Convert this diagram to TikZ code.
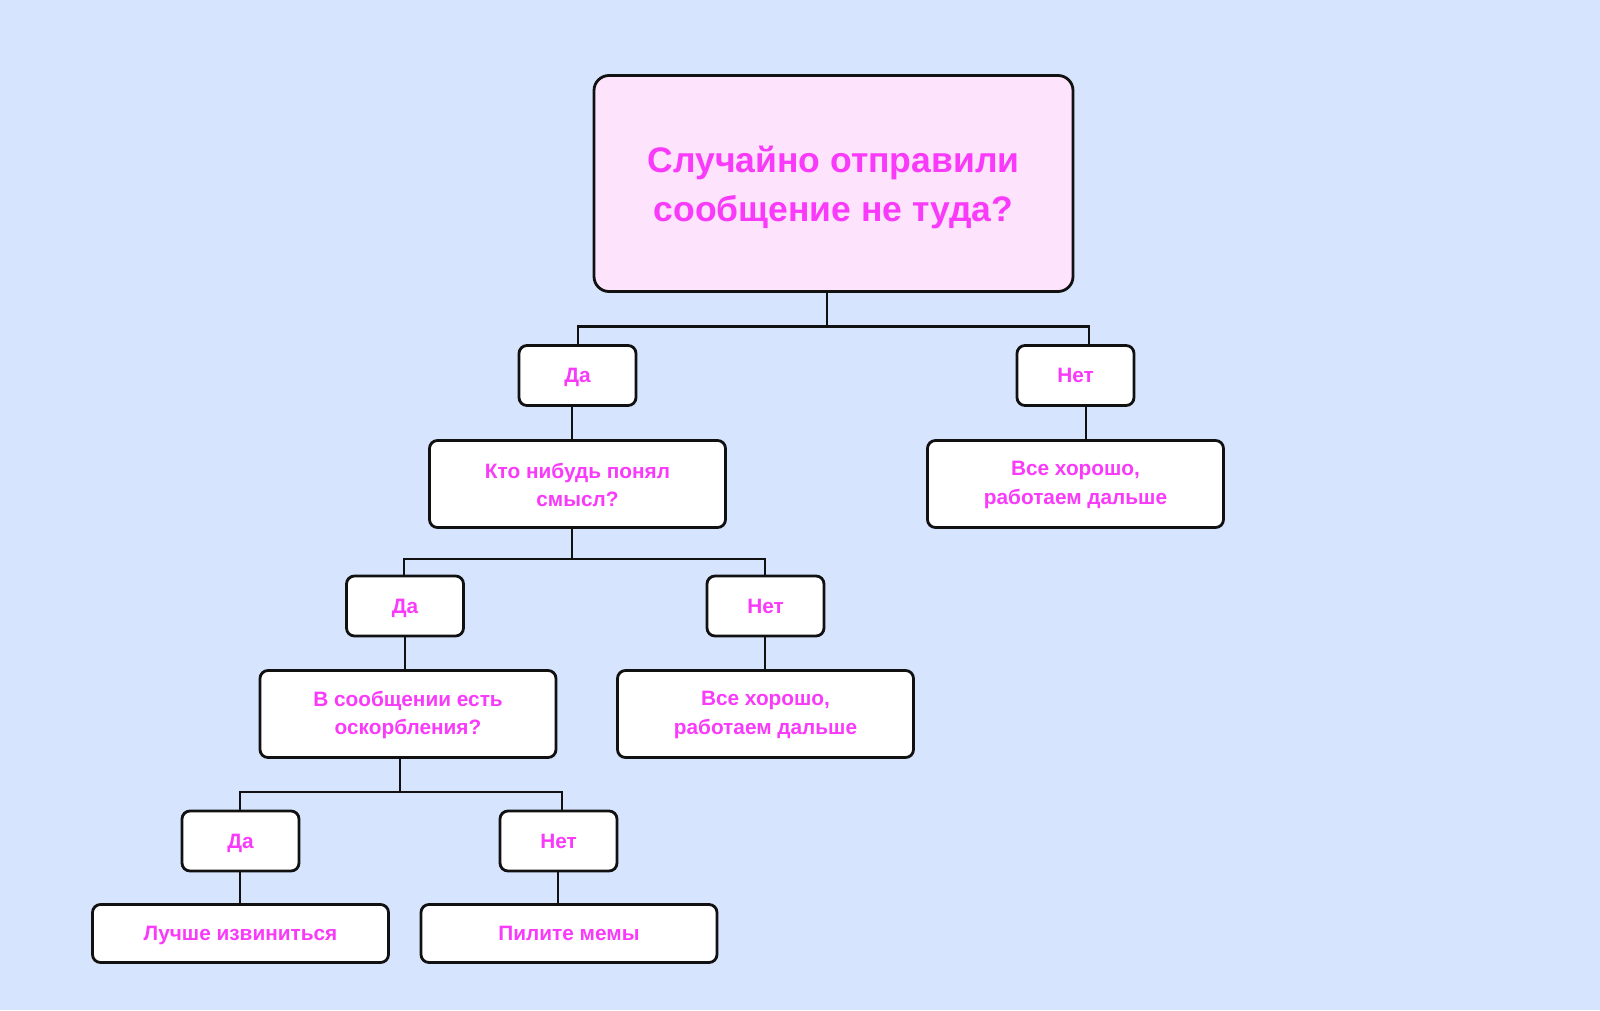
\documentclass[tikz,border=0pt]{standalone}
\usepackage{fontspec}
\setmainfont{Liberation Sans}
\definecolor{bgblue}{RGB}{214,228,253}
\definecolor{pinkfill}{RGB}{253,228,252}
\definecolor{magtext}{RGB}{250,58,250}
\definecolor{edge}{RGB}{17,17,17}
\begin{document}
\begin{tikzpicture}[x=1pt,y=-1pt,
  txt/.style={text=magtext,font=\fontsize{20.8}{28.5}\selectfont\bfseries,
    align=center,inner sep=0pt},
  one/.style={txt,text height=14.9pt,text depth=0pt},
  two/.style={txt,yshift=-1pt},
  box/.style={draw=edge,line width=2.8pt,fill=white,rounded corners=8pt,
    inner sep=0pt,outer sep=0pt},
  small/.style={box,minimum width=117pt,minimum height=60pt},
  wide/.style={box,minimum width=296pt,minimum height=87pt},
  res/.style={box,minimum width=296pt,minimum height=58pt},
  conn/.style={draw=edge,line width=2.6pt}]
\fill[bgblue] (0,0) rectangle (1600,1010);
\useasboundingbox (0,0) rectangle (1600,1010);

\node[box,fill=pinkfill,rounded corners=15pt,minimum width=479pt,minimum height=216pt,
  label={[txt,font=\fontsize{35.5}{49}\selectfont\bfseries,yshift=-4pt]center:Случайно отправили\\сообщение не туда?}]
  (top) at (833.5,183.5) {};

\node[small,label={[one]center:Да}] (da1) at (577.5,375.5) {};
\node[small,label={[one]center:Нет}] (net1) at (1075.5,375.5) {};
\node[wide,label={[two]center:Кто нибудь понял\\смысл?}] (kto) at (577.5,484) {};
\node[wide,label={[two]center:Все хорошо,\\работаем дальше}] (ok1) at (1075.5,484) {};

\node[small,label={[one]center:Да}] (da2) at (405,606) {};
\node[small,label={[one]center:Нет}] (net2) at (765.5,606) {};
\node[wide,label={[two]center:В сообщении есть\\оскорбления?}] (vs) at (408,714) {};
\node[wide,label={[two]center:Все хорошо,\\работаем дальше}] (ok2) at (765.5,714) {};

\node[small,label={[one]center:Да}] (da3) at (240.5,841) {};
\node[small,label={[one]center:Нет}] (net3) at (558.5,841) {};
\node[res,label={[one]center:Лучше извиниться}] (izv) at (240.5,933.5) {};
\node[res,label={[one]center:Пилите мемы}] (mem) at (569,933.5) {};

% level 1
\coordinate (j1) at (827,326.5);
\draw[conn] (top.south -| j1) -- (j1);
\draw[conn] (da1.north -| 578,0) |- (j1) -| (net1.north -| 1089,0);
\draw[conn] (da1.south -| 572,0) -- (kto.north -| 572,0);
\draw[conn] (net1.south -| 1086,0) -- (ok1.north -| 1086,0);

% level 2
\coordinate (j2) at (572,559);
\draw[conn] (kto.south -| j2) -- (j2);
\draw[conn] (da2.north -| 404,0) |- (j2) -| (net2.north -| 765,0);
\draw[conn] (da2.south -| 405,0) -- (vs.north -| 405,0);
\draw[conn] (net2.south -| 765,0) -- (ok2.north -| 765,0);

% level 3
\coordinate (j3) at (400,792);
\draw[conn] (vs.south -| j3) -- (j3);
\draw[conn] (da3.north -| 240,0) |- (j3) -| (net3.north -| 562,0);
\draw[conn] (da3.south -| 240,0) -- (izv.north -| 240,0);
\draw[conn] (net3.south -| 558,0) -- (mem.north -| 558,0);
\end{tikzpicture}
\end{document}
